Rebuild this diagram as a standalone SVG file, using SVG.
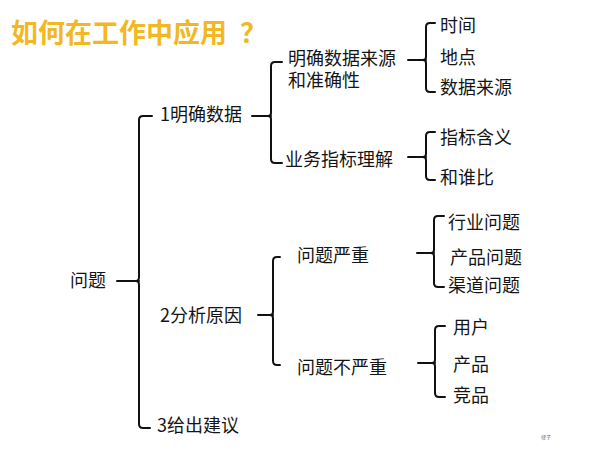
<svg xmlns="http://www.w3.org/2000/svg" width="600" height="450" viewBox="0 0 600 450">
<style>
.t{font-family:"Noto Sans CJK SC","Noto Sans",sans-serif;font-size:18px;fill:#151515}
.title{font-family:"Noto Sans CJK SC","Noto Sans",sans-serif;font-size:27px;font-weight:bold;fill:#F2B824}
.c{fill:none;stroke:#111;stroke-width:2;stroke-linecap:round;stroke-linejoin:round}
</style>
<rect width="600" height="450" fill="#fff"/>
<text class="title" x="11" y="43">如何在工作中应用<tspan x="240">？</tspan></text>
<g id="connectors">
<path class="c" d="M117 281 H139"/>
<path class="c" d="M152 116 H143 Q139 116 139 120 V277 Q139 281 136 281 Q139 281 139 285 V424 Q139 428 143 428 H150"/>
<path class="c" d="M252 116 H271"/>
<path class="c" d="M282 62 H275 Q271 62 271 66 V113 Q271 116 268 116 Q271 116 271 119 V159 Q271 163 275 163 H282"/>
<path class="c" d="M408 60 H426"/>
<path class="c" d="M435 23 H430 Q426 23 426 27 V57 Q426 60 423 60 Q426 60 426 63 V88 Q426 92 430 92 H435"/>
<path class="c" d="M408 157 H426"/>
<path class="c" d="M435 132 H430 Q426 132 426 136 V154 Q426 157 423 157 Q426 157 426 160 V176 Q426 180 430 180 H435"/>
<path class="c" d="M258 315 H273"/>
<path class="c" d="M280 257 H277 Q273 257 273 261 V312 Q273 315 270 315 Q273 315 273 318 V361 Q273 365 277 365 H280"/>
<path class="c" d="M417 253 H434"/>
<path class="c" d="M444 216 H438 Q434 216 434 220 V250 Q434 253 431 253 Q434 253 434 256 V283 Q434 287 438 287 H444"/>
<path class="c" d="M418 363 H435"/>
<path class="c" d="M445 326 H439 Q435 326 435 330 V360 Q435 363 432 363 Q435 363 435 366 V393 Q435 397 439 397 H445"/>
</g>
<g id="n-root"><text class="t" x="70" y="286.5">问题</text></g>
<g id="n-1"><text class="t" x="160" y="120.5">1明确数据</text></g>
<g id="n-1a"><text class="t" x="288" y="65">明确数据来源</text><text class="t" x="288" y="87">和准确性</text></g>
<g id="n-1a1"><text class="t" x="440" y="31.5">时间</text></g>
<g id="n-1a2"><text class="t" x="440" y="63.5">地点</text></g>
<g id="n-1a3"><text class="t" x="440" y="93.5">数据来源</text></g>
<g id="n-1b"><text class="t" x="285" y="165.5">业务指标理解</text></g>
<g id="n-1b1"><text class="t" x="440" y="143.5">指标含义</text></g>
<g id="n-1b2"><text class="t" x="440" y="183.5">和谁比</text></g>
<g id="n-2"><text class="t" x="160" y="321.5">2分析原因</text></g>
<g id="n-2a"><text class="t" x="297" y="261.5">问题严重</text></g>
<g id="n-2a1"><text class="t" x="448" y="228.5">行业问题</text></g>
<g id="n-2a2"><text class="t" x="450" y="263.5">产品问题</text></g>
<g id="n-2a3"><text class="t" x="448" y="291.5">渠道问题</text></g>
<g id="n-2b"><text class="t" x="297" y="373.5">问题不严重</text></g>
<g id="n-2b1"><text class="t" x="453" y="333.5">用户</text></g>
<g id="n-2b2"><text class="t" x="453" y="370.5">产品</text></g>
<g id="n-2b3"><text class="t" x="453" y="401.5">竞品</text></g>
<g id="n-3"><text class="t" x="157" y="431.5">3给出建议</text></g>
<text x="541" y="439" font-family="Noto Sans CJK SC,sans-serif" font-size="5" fill="#666">律子</text>
</svg>
